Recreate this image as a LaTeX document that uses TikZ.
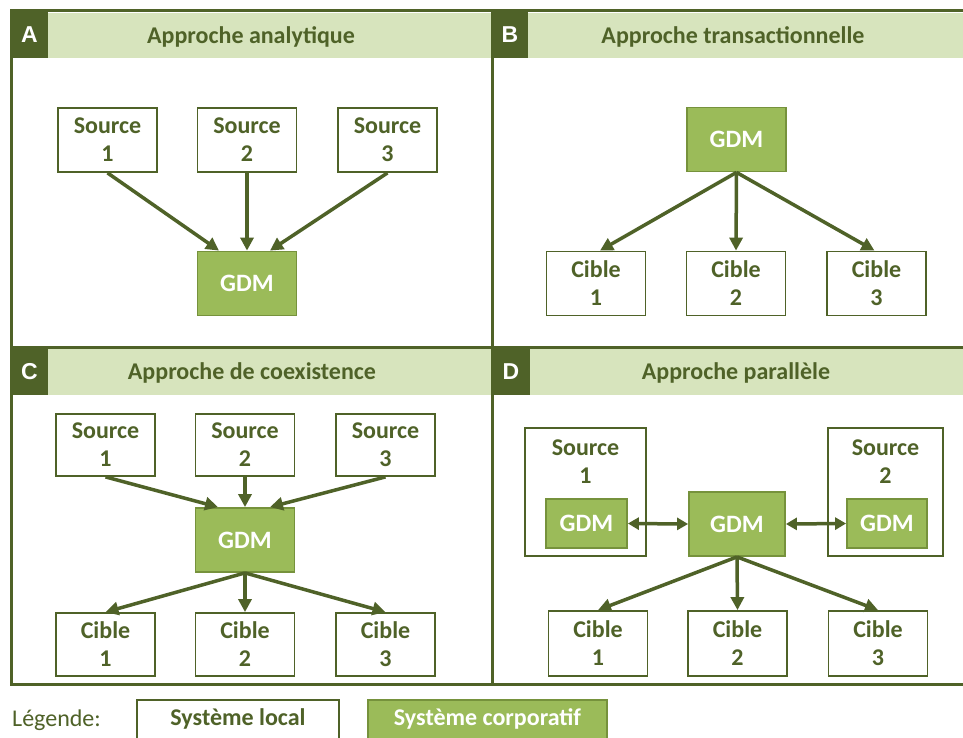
\documentclass[tikz,border=0pt]{standalone}
\usepackage{fontspec}
\setmainfont{Carlito}
\usetikzlibrary{arrows.meta,calc}
\definecolor{dark}{HTML}{4F6228}
\definecolor{band}{HTML}{D7E4BD}
\definecolor{gfill}{HTML}{9BBB59}
\definecolor{gdraw}{HTML}{76923C}
\tikzset{
  box/.style={draw=dark, line width=1.8pt, fill=white, minimum width=99pt, minimum height=64pt,
    text=dark, font=\bfseries\fontsize{24}{28}\selectfont, align=center, inner sep=0pt},
  gdm/.style={box, fill=gfill, draw=gdraw, text=white, font=\bfseries\fontsize{25}{28}\selectfont},
  arr/.style={draw=dark, line width=3.5pt, -{Triangle[length=13pt,width=13pt]}},
  darr/.style={draw=dark, line width=3.5pt, {Triangle[length=11pt,width=12pt]}-{Triangle[length=11pt,width=12pt]}},
  letter/.style={fill=dark, text=white, font=\fontspec{Liberation Sans}\bfseries\fontsize{23}{24}\selectfont, inner sep=0pt},
  title/.style={text=dark, font=\bfseries\fontsize{24}{28}\selectfont, inner sep=0pt}
}
\begin{document}
\begin{tikzpicture}[x=1pt,y=-1pt]
\useasboundingbox (0,0) rectangle (963,738);
\clip (0,0) rectangle (963,738);
\fill[white] (0,0) rectangle (963,738);
% header bands
\fill[band] (48,13) rectangle (491,58);
\fill[band] (528,13) rectangle (980,58);
\fill[band] (48,349) rectangle (491,395);
\fill[band] (530,349) rectangle (980,395);
\node[letter, minimum width=37pt, minimum height=47pt] (la) at (29.5,34.5) {A};
\node[letter, minimum width=36pt, minimum height=47pt] (lb) at (510,34.5) {B};
\node[letter, minimum width=37pt, minimum height=47pt] (lc) at (29.5,371.5) {C};
\node[letter, minimum width=38pt, minimum height=47pt] (ld) at (511,371.5) {D};
\node[title] (ta) at (251,37) {Approche analytique};
\node[title] (tb) at (733,37) {Approche transactionnelle};
\node[title] (tc) at (252,373) {Approche de coexistence};
\node[title] (td) at (736,373) {Approche parallèle};
% frames
\draw[dark, line width=3pt] (11,11) rectangle (985,684);
\draw[dark, line width=3pt] (492,11) -- (492,684);
\draw[dark, line width=3pt] (11,347) -- (985,347);
% Panel A
\node[box] (a1) at (107.5,140) {Source\\1};
\node[box] (a2) at (247,140) {Source\\2};
\node[box] (a3) at (387.5,140) {Source\\3};
\node[gdm] (ag) at (247,283.5) {GDM};
\draw[arr] (a1.south) -- ([xshift=-28pt]ag.north);
\draw[arr] (a2.south) -- (ag.north);
\draw[arr] (a3.south) -- ([xshift=23pt]ag.north);
% Panel B
\node[gdm] (bg) at (736.5,139.5) {GDM};
\node[box] (b1) at (596,283.5) {Cible\\1};
\node[box] (b2) at (736,283.5) {Cible\\2};
\node[box] (b3) at (876.5,283.5) {Cible\\3};
\draw[arr] (bg.south) -- ([xshift=4pt]b1.north);
\draw[arr] (bg.south) -- (b2.north);
\draw[arr] (bg.south) -- ([xshift=-2pt]b3.north);
% Panel C
\node[box, minimum height=62pt] (c1) at (105.5,445) {Source\\1};
\node[box, minimum height=62pt] (c2) at (245,445) {Source\\2};
\node[box, minimum height=62pt] (c3) at (385.5,445) {Source\\3};
\node[gdm] (cg) at (245,540) {GDM};
\node[box, minimum height=63pt] (d1c) at (105.5,644.5) {Cible\\1};
\node[box, minimum height=63pt] (d2c) at (245,644.5) {Cible\\2};
\node[box, minimum height=63pt] (d3c) at (385.5,644.5) {Cible\\3};
\draw[arr] (c1.south) -- ([xshift=-27pt]cg.north);
\draw[arr] (c2.south) -- (cg.north);
\draw[arr] (c3.south) -- ([xshift=25pt]cg.north);
\draw[arr] (cg.south) -- (d1c.north);
\draw[arr] (cg.south) -- (d2c.north);
\draw[arr] (cg.south) -- (d3c.north);
% Panel D
\node[box, minimum width=121pt, minimum height=128pt] (ds1) at (585.5,492) {};
\node[box, draw=none, fill=none] (ds1t) at (585.5,462) {Source\\1};
\node[gdm, minimum width=81pt, minimum height=49pt] (dg1) at (586.5,523.5) {GDM};
\node[box, minimum width=115pt, minimum height=128pt] (ds2) at (885.5,492) {};
\node[box, draw=none, fill=none] (ds2t) at (885.5,462) {Source\\2};
\node[gdm, minimum width=80pt, minimum height=49pt] (dg2) at (887,523.5) {GDM};
\node[gdm, minimum width=96pt] (dg) at (737,524) {GDM};
\node[box, minimum height=65pt] (e1) at (598,643.5) {Cible\\1};
\node[box, minimum height=65pt] (e2) at (737.5,643.5) {Cible\\2};
\node[box, minimum height=65pt] (e3) at (878,643.5) {Cible\\3};
\draw[darr] (dg1.east) -- (dg.west);
\draw[darr] (dg.east) -- (dg2.west);
\draw[arr] (dg.south) -- (e1.north);
\draw[arr] (dg.south) -- (e2.north);
\draw[arr] (dg.south) -- (e3.north);
% Legend
\node[text=dark, font=\fontsize{24}{28}\selectfont, anchor=west, inner sep=0pt] (leg) at (12,720) {Légende:};
\node[box, minimum width=202pt, minimum height=46pt] (ll) at (238,723) {};
\node[text=dark, font=\bfseries\fontsize{24}{28}\selectfont, inner sep=0pt] (llt) at (238,719) {Système local};
\node[gdm, minimum width=239pt, minimum height=46pt] (lc2) at (487.5,723) {};
\node[text=white, font=\bfseries\fontsize{24}{28}\selectfont, inner sep=0pt] (lct) at (487.5,719) {Système corporatif};
\end{tikzpicture}
\end{document}
